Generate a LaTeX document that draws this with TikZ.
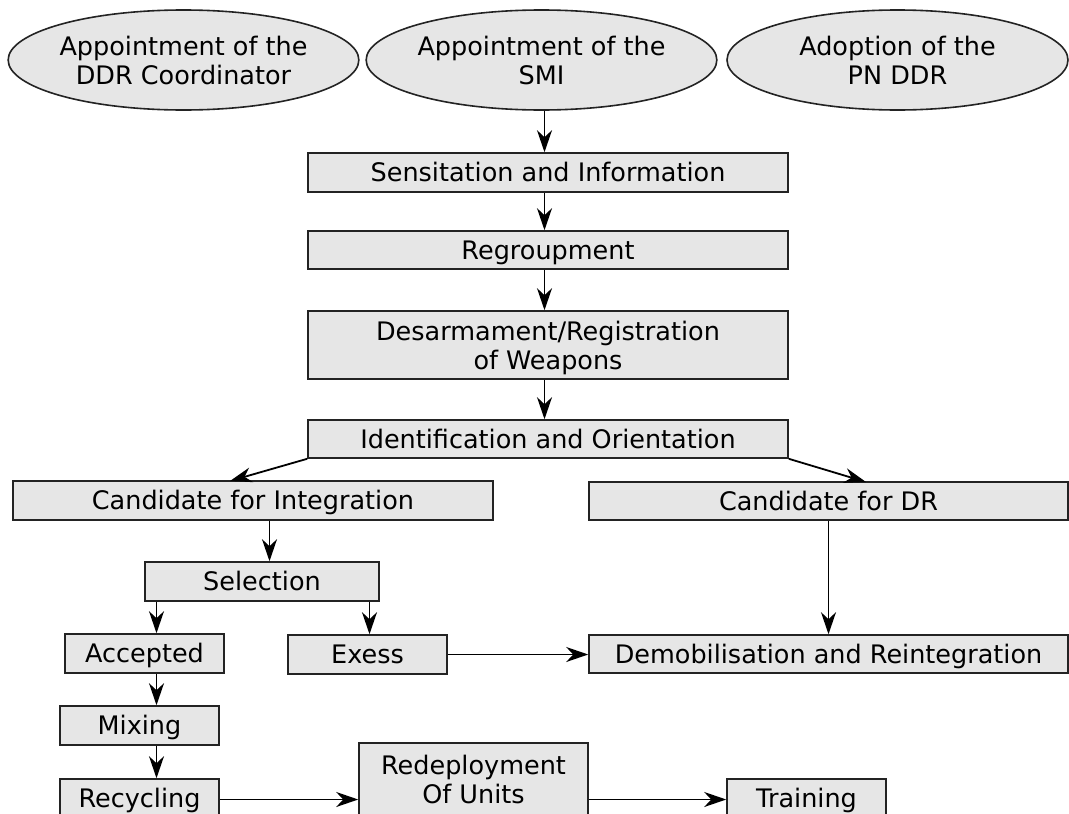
\documentclass[tikz,border=0pt]{standalone}
\usepackage{fontspec}
\setmainfont{DejaVu Sans}
\usetikzlibrary{shapes.geometric,arrows.meta}
\definecolor{boxfill}{RGB}{230,230,230}
\definecolor{boxline}{RGB}{35,35,35}
\begin{document}
\begin{tikzpicture}[x=1pt,y=-1pt,
  every node/.style={font=\fontsize{25.5}{29}\selectfont, inner sep=0pt},
  box/.style={draw=boxline, fill=boxfill, line width=1.6pt, rectangle},
  one/.style={text height=18.6pt, text depth=0pt},
  two/.style={align=center, text depth=0pt},
  oval/.style={draw=boxline, fill=boxfill, line width=1.6pt, ellipse, align=center, text depth=0pt, minimum height=100pt},
  arr/.style={line width=1.8pt, -{Stealth[length=22pt,width=15pt,inset=7pt]}}]
\clip (0,0) rectangle (1069,814);
\useasboundingbox (0,0) rectangle (1069,814);

% ellipses
\node[oval, minimum width=343pt] (e1) at (183.5,60) {Appointment of the\\DDR Coordinator};
\node[oval, minimum width=343pt] (e2) at (541.5,60) {Appointment of the\\SMI};
\node[oval, minimum width=341pt] (e3) at (897.5,60) {Adoption of the\\PN DDR};

% boxes
\node[box, one, minimum width=480pt, minimum height=39pt] (sens) at (548,172.5) {Sensitation and Information};
\node[box, one, minimum width=480pt, minimum height=38pt] (regr) at (548,250) {Regroupment};
\node[box, two, minimum width=480pt, minimum height=68pt] (desarm) at (548,345) {Desarmament/Registration\\of Weapons};
\node[box, one, minimum width=480pt, minimum height=38pt] (ident) at (548,439) {Identification and Orientation};
\node[box, one, minimum width=480pt, minimum height=39pt] (candInt) at (253,500.5) {Candidate for Integration};
\node[box, one, minimum width=479pt, minimum height=38pt] (candDR) at (828.5,501) {Candidate for DR};
\node[box, one, minimum width=234pt, minimum height=39pt] (selection) at (262,581.5) {Selection};
\node[box, one, minimum width=159pt, minimum height=39pt] (accepted) at (144.5,653.5) {Accepted};
\node[box, one, minimum width=159pt, minimum height=39pt] (exess) at (367.5,654.5) {Exess};
\node[box, one, minimum width=479pt, minimum height=38pt] (demob) at (828.5,654) {Demobilisation and Reintegration};
\node[box, one, minimum width=159pt, minimum height=39pt] (mixing) at (139.5,725.5) {Mixing};
\node[box, one, minimum width=159pt, minimum height=39pt] (recycling) at (139.5,798.5) {Recycling};
\node[box, two, minimum width=229pt, minimum height=72pt] (redeploy) at (473.5,779) {Redeployment\\Of Units};
\node[box, one, minimum width=159pt, minimum height=39pt] (training) at (806.5,798.5) {Training};

% helper coordinates
\coordinate (colE) at (544.5,0);
\coordinate (colM) at (544.5,0);
\coordinate (colS) at (269.5,0);
\coordinate (colA) at (156.5,0);
\coordinate (colX) at (369.5,0);
\coordinate (colD) at (828.5,0);
\coordinate (rowB) at (0,799.5);
\coordinate (ciT) at (230,481);
\coordinate (cdT) at (866,482);

% connectors
\draw[arr] (e2.south -| colE) -- (sens.north -| colE);
\draw[arr] (sens.south -| colM) -- (regr.north -| colM);
\draw[arr] (regr.south -| colM) -- (desarm.north -| colM);
\draw[arr] (desarm.south -| colM) -- (ident.north -| colM);
\draw[arr] (ident.south west) -- (ciT);
\draw[arr] (ident.south east) -- (cdT);
\draw[arr] (candInt.south -| colS) -- (selection.north -| colS);
\draw[arr] (selection.south -| colA) -- (accepted.north -| colA);
\draw[arr] (selection.south -| colX) -- (exess.north -| colX);
\draw[arr] (accepted.south -| colA) -- (mixing.north -| colA);
\draw[arr] (mixing.south -| colA) -- (recycling.north -| colA);
\draw[arr] (candDR.south -| colD) -- (demob.north -| colD);
\draw[arr] (exess.east) -- (demob.west |- exess.east);
\draw[arr] (recycling.east |- rowB) -- (redeploy.west |- rowB);
\draw[arr] (redeploy.east |- rowB) -- (training.west |- rowB);
\end{tikzpicture}
\end{document}
